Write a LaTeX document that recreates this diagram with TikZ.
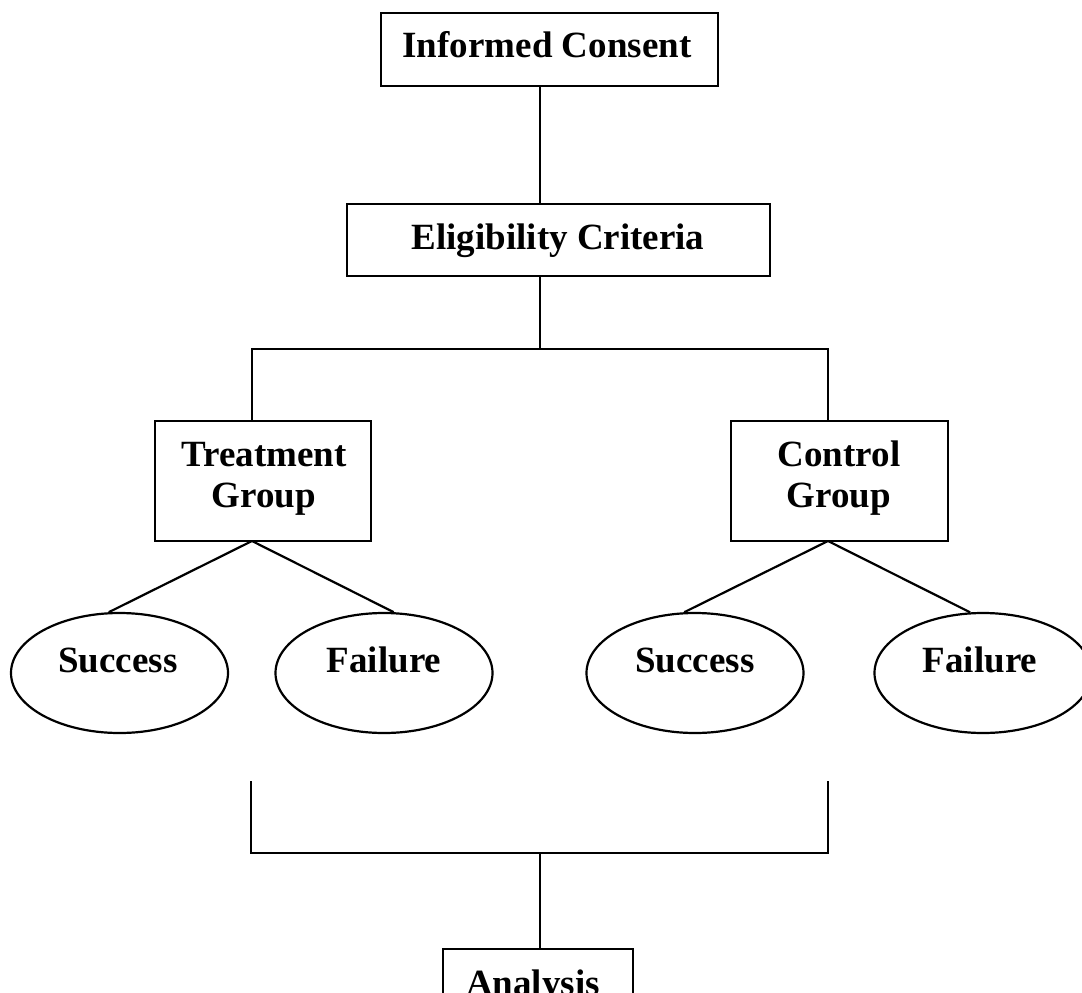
\documentclass[tikz,border=0pt]{standalone}
\usepackage{fontspec}
\setmainfont{Liberation Serif}
\usetikzlibrary{shapes.geometric,calc}
\tikzset{
  box/.style={draw=black, line width=2.2pt, rectangle, inner sep=0pt, fill=white},
  oval/.style={draw=black, line width=2.2pt, ellipse, inner sep=0pt, minimum width=217pt, minimum height=120pt},
  lbl/.style={inner sep=0pt, anchor=base, font=\fontsize{37}{42}\selectfont\bfseries},
  conn/.style={draw=black, line width=2.2pt}
}
\begin{document}
\begin{tikzpicture}[x=1pt, y=-1pt]
\clip (0,0) rectangle (1082,993);
\fill[white] (0,0) rectangle (1082,993);
% boxes
\node[box, minimum width=337pt, minimum height=73pt] (ic) at (549.5,49.5) {};
\node[lbl] (ict) at (547,57) {Informed Consent};
\node[box, minimum width=423pt, minimum height=72pt] (ec) at (558.5,240) {};
\node[lbl] (ect) at (558,249) {Eligibility Criteria};
\node[box, minimum width=216pt, minimum height=120pt] (tg) at (263,481) {};
\node[lbl] (tgt1) at (264,466) {Treatment};
\node[lbl] (tgt2) at (264,507) {Group};
\node[box, minimum width=217pt, minimum height=120pt] (cg) at (839.5,481) {};
\node[lbl] (cgt1) at (839,466) {Control};
\node[lbl] (cgt2) at (839,507) {Group};
\node[box, minimum width=190pt, minimum height=80pt] (an) at (538,989) {};
\node[lbl] (ant) at (533,995) {Analysis};
% ellipses
\node[oval] (ts) at (119.5,673) {};
\node[lbl] (tst) at (118,672) {Success};
\node[oval] (tf) at (384,673) {};
\node[lbl] (tft) at (384,672) {Failure};
\node[oval] (cs) at (695,673) {};
\node[lbl] (cst) at (695,672) {Success};
\node[oval] (cf) at (983,673) {};
\node[lbl] (cft) at (980,672) {Failure};
% junction coordinates
\coordinate (ica) at (540,86);
\coordinate (eca) at (540,204);
\coordinate (ecb) at (540,276);
\coordinate (spl) at (540,349);
\coordinate (spa) at (252,349);
\coordinate (spb) at (828,349);
\coordinate (tgtop) at (252,421);
\coordinate (cgtop) at (828,421);
\coordinate (tgap) at (252,541);
\coordinate (cgap) at (828,541);
\coordinate (bra) at (251,781);
\coordinate (brb) at (828,781);
\coordinate (brl) at (251,853);
\coordinate (brr) at (828,853);
\coordinate (brm) at (540,853);
\coordinate (antop) at (540,949);
% connectors
\draw[conn] (ica) -- (eca);
\draw[conn] (ecb) -- (spl);
\draw[conn] (tgtop) -- (spa) -- (spb) -- (cgtop);
\draw[conn] (tgap) -- (ts.100);
\draw[conn] (tgap) -- (tf.81);
\draw[conn] (cgap) -- (cs.100);
\draw[conn] (cgap) -- (cf.102);
\draw[conn] (bra) -- (brl) -- (brr) -- (brb);
\draw[conn] (brm) -- (antop);
\end{tikzpicture}
\end{document}
